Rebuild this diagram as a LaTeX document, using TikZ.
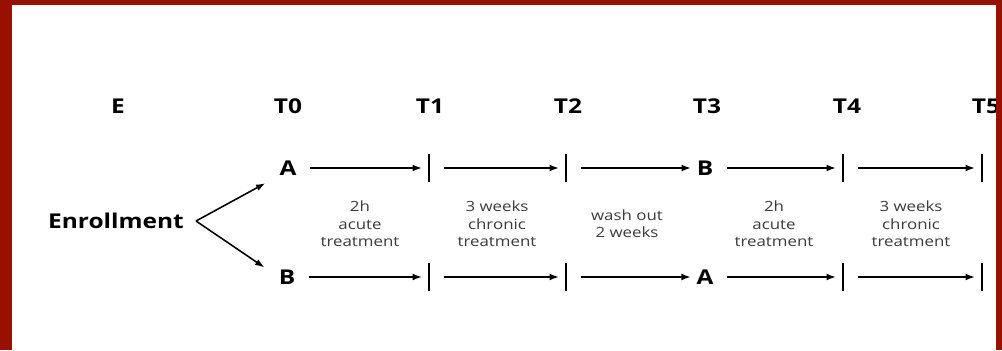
\documentclass[tikz,border=0pt]{standalone}
\usepackage{fontspec}
\setmainfont{Open Sans}[FakeStretch=1.2]
\usepackage{tikz}
\usetikzlibrary{arrows.meta,positioning}
\definecolor{framered}{RGB}{152,17,0}
\definecolor{notegray}{RGB}{60,60,60}
\tikzset{
  timept/.style={
    inner sep = 0pt,
    font = \bfseries\fontsize{14.5}{16}\selectfont
  },
  arm/.style={
    inner sep = 0pt,
    font = \bfseries\fontsize{14.5}{16}\selectfont
  },
  tick/.style={
    inner sep = 0pt,
    shape = rectangle,
    fill = black,
    minimum width = 0.065cm,
    minimum height = 0.7cm
  },
  note/.style={
    align = center,
    text = notegray,
    font = \fontsize{10}{12.4}\selectfont
  },
  phase/.style={
    -{Latex[length=0.23cm,width=0.17cm]},
    line width = 1pt,
    shorten <= 0.34cm,
    shorten >= 0.14cm
  },
  split/.style={
    -{Latex[length=0.23cm,width=0.17cm]},
    line width = 1.1pt
  }
}

\begin{document}
\begin{tikzpicture}[x=0.025cm, y=-0.025cm]
        \useasboundingbox (0,0) rectangle (1002,350);
        \fill[white] (0,0) rectangle (1002,350);
        % time points
        \node[timept] (E) at (118,106) {E};
        \node[timept] (T0) at (288,106) {T0};
        \node[timept] (T1) at (430,106) {T1};
        \node[timept] (T2) at (568,106) {T2};
        \node[timept] (T3) at (707,106) {T3};
        \node[timept] (T4) at (847,106) {T4};
        \node[timept] (T5) at (986,106) {T5};
        % enrollment
        \node[arm] (enroll) at (116,221) {Enrollment};
        \coordinate (fork) at (196,221);
        % upper arm
        \node[arm] (upA) at (288,168) {A};
        \node[tick] (up1) at (429,168) {};
        \node[tick] (up2) at (566,168) {};
        \node[arm] (upB) at (705,168) {B};
        \node[tick] (up4) at (843,168) {};
        \node[tick] (up5) at (982,168) {};
        % lower arm
        \node[arm] (loB) at (287,277) {B};
        \node[tick] (lo1) at (429,277) {};
        \node[tick] (lo2) at (566,277) {};
        \node[arm] (loA) at (705,277) {A};
        \node[tick] (lo4) at (843,277) {};
        \node[tick] (lo5) at (982,277) {};
        % phases
        \node[note] (ph1) at (360,224) {2h\\acute\\treatment};
        \node[note] (ph2) at (497,224) {3 weeks\\chronic\\treatment};
        \node[note] (ph3) at (627,224) {wash out\\2 weeks};
        \node[note] (ph4) at (774,224) {2h\\acute\\treatment};
        \node[note] (ph5) at (911,224) {3 weeks\\chronic\\treatment};
        % arrows
        \draw[split, shorten >= 0.4cm] (fork) -- (upA.south west);
        \draw[split, shorten >= 0.43cm] (fork) -- (loB.west);
        \draw[phase] (upA) -- (up1);
        \draw[phase] (up1) -- (up2);
        \draw[phase] (up2) -- (upB);
        \draw[phase] (upB) -- (up4);
        \draw[phase] (up4) -- (up5);
        \draw[phase] (loB) -- (lo1);
        \draw[phase] (lo1) -- (lo2);
        \draw[phase] (lo2) -- (loA);
        \draw[phase] (loA) -- (lo4);
        \draw[phase] (lo4) -- (lo5);
        % frame
        \fill[framered] (0,0) rectangle (12,350);
        \fill[framered] (0,0) rectangle (1002,5);
        \fill[framered] (996,0) rectangle (1002,350);
    \end{tikzpicture}
\end{document}
